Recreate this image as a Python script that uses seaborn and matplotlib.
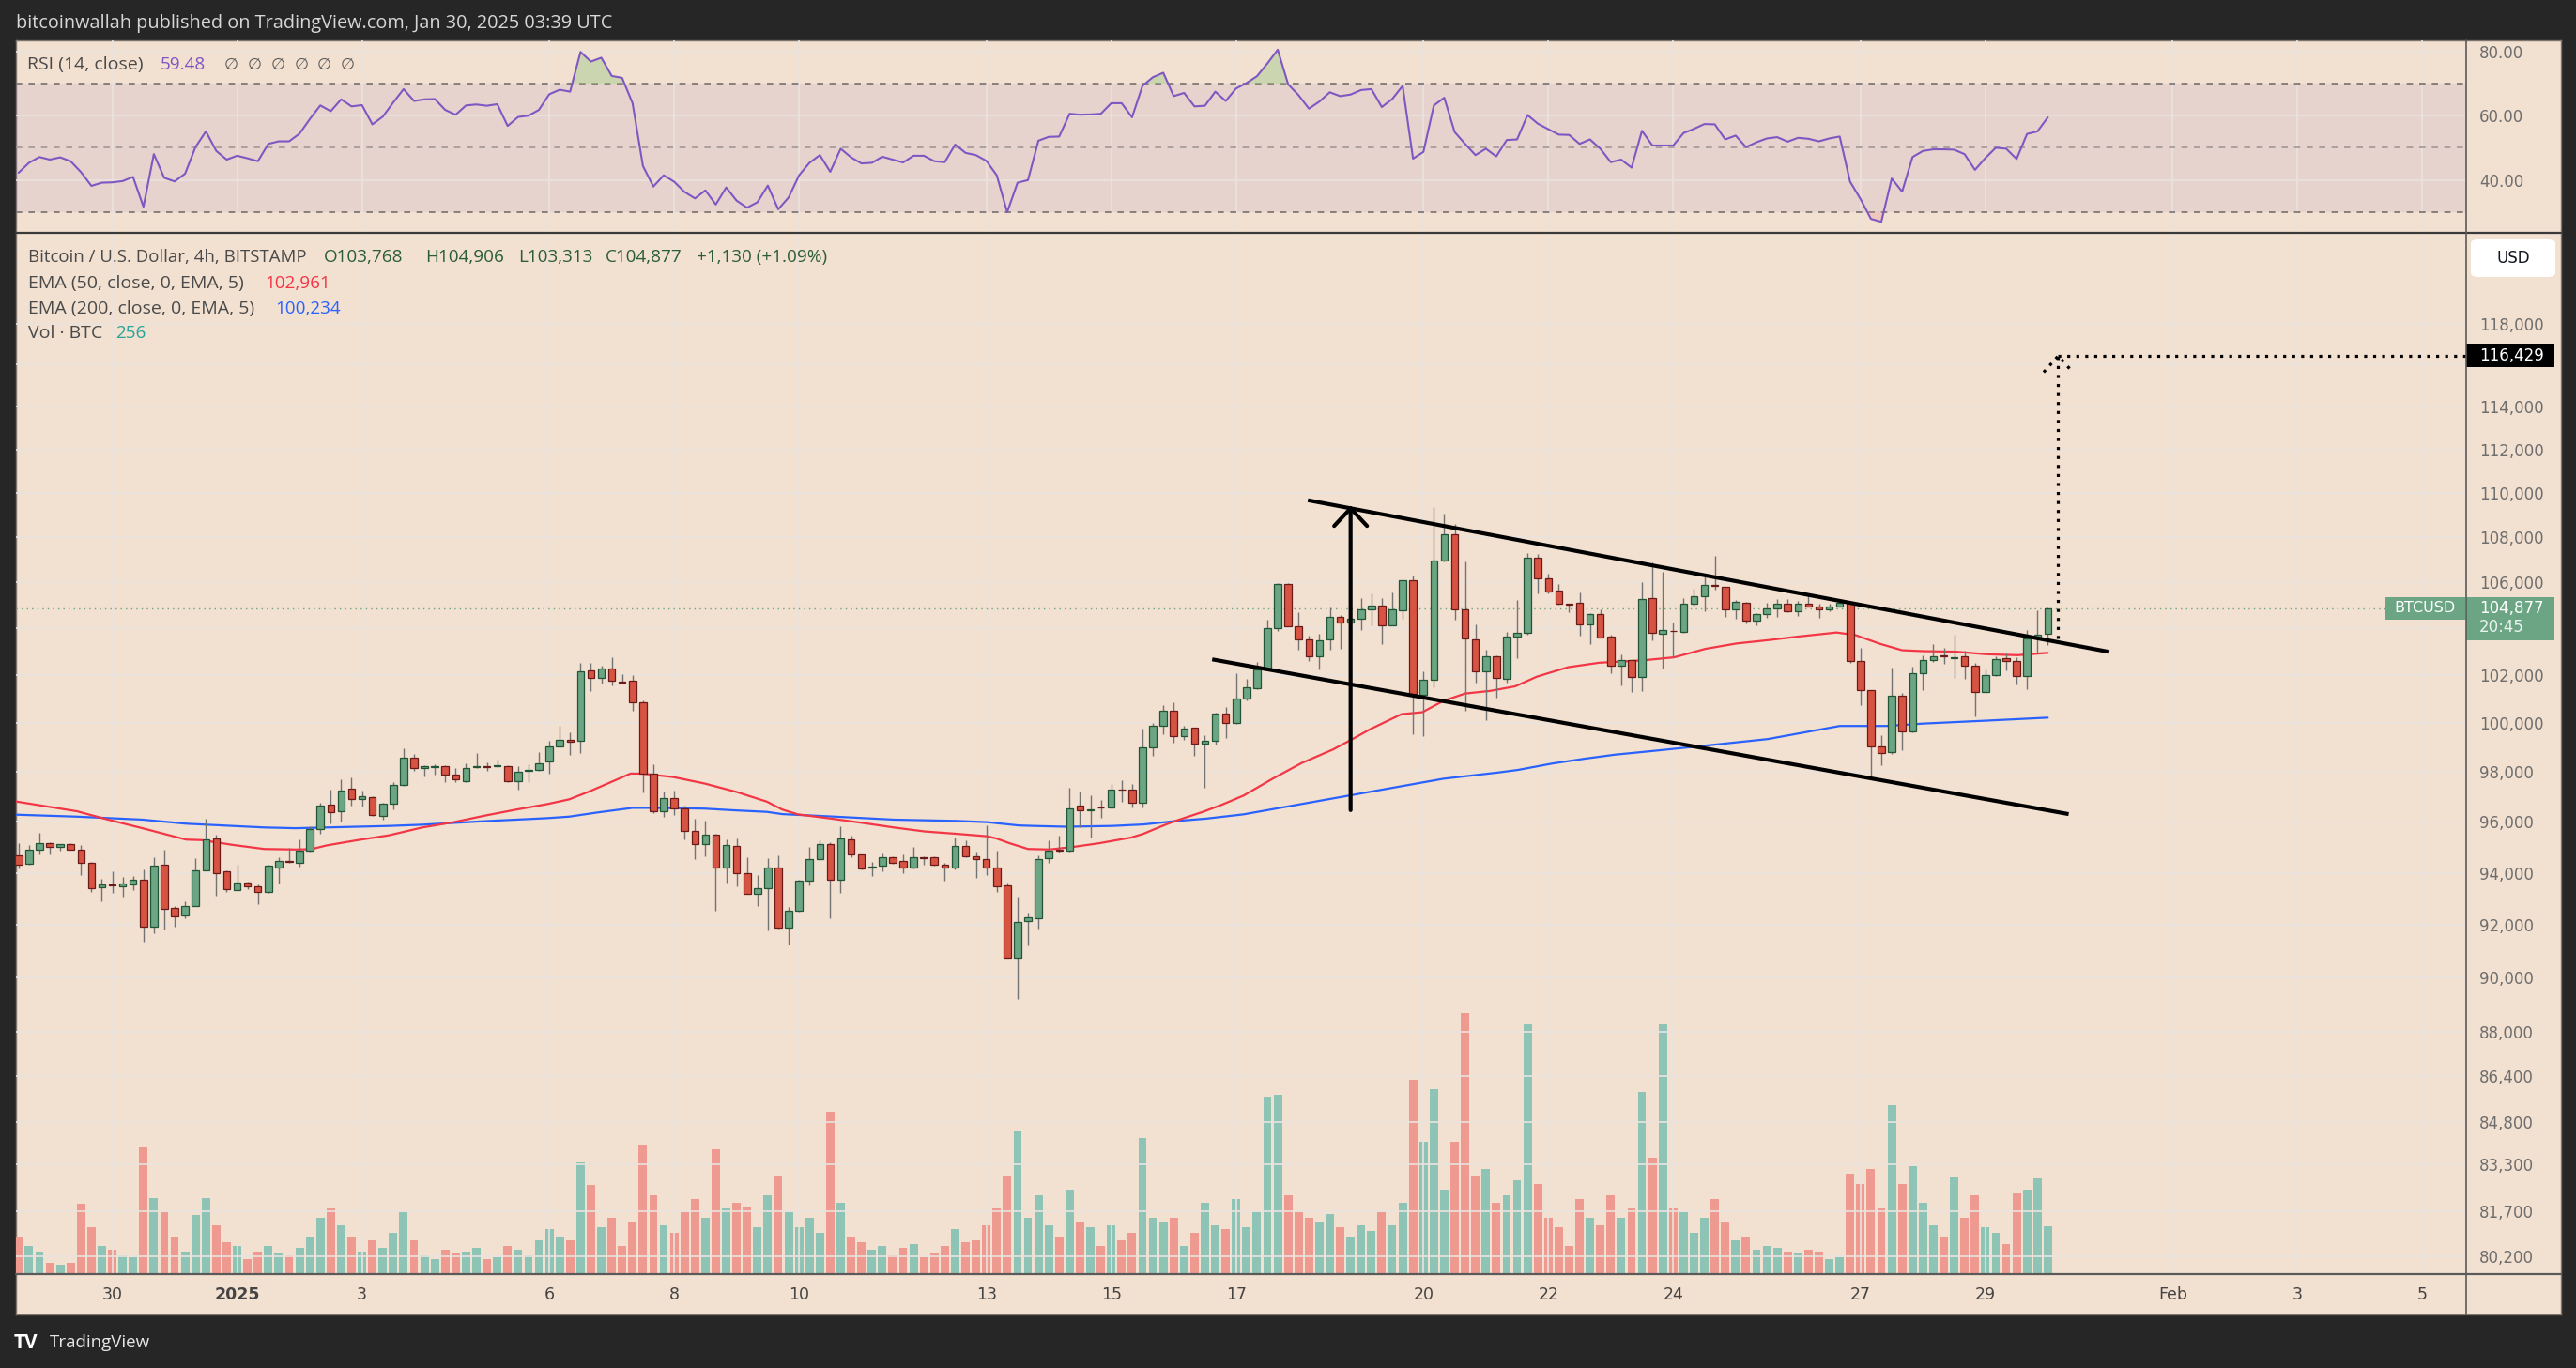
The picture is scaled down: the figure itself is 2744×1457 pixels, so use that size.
import numpy as np
import pandas as pd
import matplotlib
matplotlib.use("Agg")
import matplotlib.pyplot as plt
import seaborn as sns
from matplotlib.patches import Rectangle, FancyBboxPatch
from matplotlib.lines import Line2D
from matplotlib.ticker import NullLocator, FixedLocator, FixedFormatter

# ---------------- data ----------------
start_time = "2024-12-28 12:00"
bar_hours = 4

opens = [94670, 94340, 94900, 95160, 95010, 95120, 94890, 94370, 93450, 93550,
         93490, 93560, 93740, 91920, 94300, 92650, 92350, 92720, 94110, 95340,
         94040, 93340, 93630, 93490, 93270, 94220, 94460, 94370, 94860, 95710,
         96690, 96440, 97330, 96910, 96990, 96240, 96730, 97480, 98580, 98150,
         98190, 98260, 97890, 97650, 98190, 98230, 98230, 98260, 97630, 98040,
         98080, 98420, 99040, 99310, 99270, 102200, 101880, 102280, 101730, 101770,
         100860, 97930, 96430, 96950, 96540, 95640, 95120, 95490, 94220, 95040,
         94000, 93200, 93410, 94220, 91880, 92540, 93710, 94520, 95120, 93730,
         95300, 94710, 94210, 94260, 94600, 94450, 94190, 94620, 94600, 94300,
         94190, 95040, 94630, 94520, 94220, 93520, 90770, 92130, 92240, 94560,
         94910, 94860, 96650, 96460, 96590, 96580, 97300, 97290, 96760, 99000,
         99880, 100510, 99460, 99810, 99150, 99270, 100390, 100000, 101020, 101450,
         102250, 104030, 105920, 104110, 103550, 102800, 103550, 104520, 104270, 104440,
         104850, 105010, 104150, 104770, 106080, 101200, 101800, 106960, 108130, 104850,
         103550, 102160, 102830, 101840, 103670, 103830, 107080, 106170, 105630, 105060,
         105100, 104190, 104640, 103670, 102400, 102640, 101920, 105300, 103790, 103910,
         103860, 105060, 105420, 105880, 105800, 104850, 105100, 104360, 104640, 104890,
         105060, 104730, 105060, 104970, 104810, 104970, 105100, 102600, 101370, 99040,
         98800, 101140, 99650, 102080, 102640, 102850, 102740, 102800, 102400, 101290,
         102000, 102720, 102600, 101960, 103590, 103768]

highs = [95170, 95090, 95580, 95200, 95120, 95160, 95090, 94420, 93760, 94050,
         93830, 93890, 94120, 94610, 94900, 92720, 92880, 94570, 96140, 95500,
         94080, 94310, 93670, 93560, 94300, 94600, 94970, 95300, 95830, 96780,
         97290, 97710, 97790, 97250, 97010, 96760, 97590, 98970, 98730, 98280,
         98310, 98280, 98150, 98350, 98780, 98400, 98510, 98280, 98240, 98310,
         98820, 99280, 99900, 99630, 102520, 102520, 102410, 102770, 102040, 102000,
         100950, 98320, 97210, 97250, 96660, 96140, 96060, 95520, 95300, 95340,
         94610, 93900, 94570, 94680, 92680, 93720, 95010, 95270, 95190, 95840,
         95470, 94730, 94410, 94770, 94660, 94700, 95020, 94660, 94650, 94370,
         95390, 95280, 94810, 95880, 94870, 93610, 93060, 92480, 94680, 95280,
         95470, 97380, 97230, 97080, 96880, 97530, 97680, 97530, 99780, 100010,
         100760, 100880, 99900, 99830, 99510, 100430, 100690, 102090, 101840, 102570,
         104370, 105990, 105960, 104690, 103710, 103790, 104930, 104580, 104620, 105300,
         105520, 105300, 105550, 106100, 106310, 102160, 109370, 109060, 108590, 106920,
         104190, 103110, 102850, 103870, 105250, 107290, 107260, 106380, 105920, 105070,
         105550, 104660, 104810, 103750, 102910, 102660, 106000, 106880, 106470, 104270,
         105300, 105750, 106380, 107180, 105820, 105220, 105140, 104660, 105100, 105260,
         105260, 105180, 105430, 105060, 105060, 105260, 105140, 103190, 101390, 99500,
         102320, 101260, 102360, 102870, 103350, 103190, 103750, 103070, 102520, 102240,
         102800, 102950, 102760, 103950, 104770, 104906]

lows = [94170, 94300, 94720, 94720, 94880, 94890, 93900, 93240, 92880, 93220,
        93060, 93320, 91350, 91660, 91800, 91910, 92230, 92700, 94090, 93100,
        93240, 93320, 93370, 92770, 93220, 93590, 94400, 94250, 94840, 95540,
        95930, 96000, 96660, 96630, 96250, 96080, 96490, 97430, 98060, 97840,
        97910, 97580, 97580, 97610, 98170, 98060, 98210, 97600, 97310, 97610,
        98040, 97950, 99020, 98720, 98760, 101360, 101670, 101590, 101670, 100540,
        97160, 96350, 96190, 96260, 95290, 94550, 94660, 92540, 93620, 93480,
        93180, 92710, 91770, 91860, 91240, 92490, 93510, 94490, 92230, 93220,
        94620, 94140, 93880, 94060, 94340, 93990, 94170, 94320, 94280, 93700,
        94140, 94600, 93800, 93910, 93260, 90740, 89210, 91210, 91870, 94400,
        94780, 94840, 95780, 95370, 96150, 96540, 96790, 96560, 96560, 98680,
        99530, 99220, 99330, 98680, 97350, 99120, 99410, 99980, 100970, 101430,
        102230, 103890, 104090, 103090, 102620, 102270, 103090, 103140, 103700, 103950,
        104140, 103340, 104130, 104420, 99560, 99490, 101490, 106940, 104400, 100540,
        101690, 100140, 101060, 101690, 102740, 103750, 105510, 105510, 105040, 104690,
        103700, 103340, 103610, 102080, 101600, 101290, 101330, 103500, 102310, 102780,
        103820, 104970, 104730, 105670, 104520, 104410, 104230, 104150, 104480, 104520,
        104710, 104560, 104960, 104480, 104730, 104960, 102520, 100750, 97810, 98270,
        98730, 98880, 99610, 101370, 102560, 102480, 101880, 101840, 100270, 101270,
        101980, 102200, 101610, 101410, 102940, 103313]

closes = [94300, 94900, 95160, 95010, 95120, 94890, 94370, 93410, 93560, 93520,
          93600, 93740, 91920, 94260, 92610, 92320, 92720, 94110, 95300, 94000,
          93380, 93630, 93490, 93270, 94260, 94450, 94440, 94860, 95710, 96640,
          96390, 97250, 96910, 97030, 96280, 96730, 97480, 98580, 98150, 98230,
          98230, 97890, 97700, 98150, 98230, 98190, 98270, 97630, 98000, 98080,
          98350, 99040, 99310, 99230, 102160, 101880, 102280, 101770, 101690, 100860,
          97930, 96440, 96950, 96540, 95640, 95120, 95490, 94220, 95080, 94000,
          93200, 93410, 94220, 91880, 92540, 93710, 94520, 95120, 93740, 95340,
          94710, 94170, 94250, 94600, 94370, 94190, 94600, 94580, 94300, 94220,
          95040, 94630, 94520, 94220, 93490, 90770, 92100, 92280, 94520, 94860,
          94880, 96540, 96460, 96500, 96560, 97290, 97280, 96760, 99000, 99880,
          100510, 99460, 99770, 99150, 99270, 100390, 100000, 101020, 101490, 102250,
          104030, 105920, 104110, 103550, 102800, 103510, 104520, 104270, 104440, 104850,
          105010, 104150, 104810, 106080, 101240, 101800, 106960, 108130, 104810, 103590,
          102160, 102830, 101880, 103670, 103830, 107080, 106170, 105590, 105060, 105030,
          104190, 104640, 103630, 102400, 102640, 101920, 105260, 103830, 103950, 103880,
          105060, 105420, 105880, 105850, 104850, 105140, 104360, 104640, 104890, 105060,
          104730, 105060, 104970, 104810, 104970, 105100, 102600, 101370, 99040, 98770,
          101140, 99650, 102080, 102640, 102830, 102820, 102770, 102400, 101290, 102000,
          102680, 102600, 101960, 103590, 103747, 104877]

volumes = [200, 150, 120, 60, 50, 60, 375, 250, 150, 130,
           100, 90, 671, 401, 331, 200, 120, 314, 401, 260,
           170, 150, 80, 120, 150, 110, 100, 140, 200, 300,
           349, 260, 200, 120, 180, 140, 220, 330, 180, 100,
           80, 130, 110, 120, 140, 80, 90, 150, 130, 100,
           180, 240, 200, 180, 593, 471, 250, 300, 150, 280,
           689, 420, 260, 220, 330, 400, 300, 663, 350, 380,
           360, 250, 420, 520, 330, 250, 300, 220, 863, 380,
           200, 170, 130, 150, 100, 140, 160, 90, 110, 150,
           240, 170, 180, 260, 350, 520, 759, 300, 420, 260,
           200, 450, 280, 250, 150, 260, 180, 220, 724, 300,
           280, 300, 150, 220, 380, 260, 240, 400, 250, 330,
           942, 950, 420, 330, 300, 280, 320, 250, 200, 260,
           230, 330, 260, 380, 1029, 700, 980, 450, 700, 1386,
           520, 560, 380, 420, 500, 1325, 480, 300, 250, 150,
           400, 300, 260, 420, 300, 350, 968, 620, 1325, 350,
           330, 220, 300, 400, 280, 180, 200, 130, 150, 140,
           120, 110, 130, 120, 80, 90, 532, 480, 558, 350,
           898, 480, 575, 380, 260, 200, 514, 300, 420, 250,
           220, 160, 427, 450, 506, 256]

rsi_values = [42.2, 45.3, 47.1, 46.3, 47.0, 45.8, 42.4, 38.1, 39.1, 39.2,
              39.6, 40.9, 31.6, 48.0, 40.6, 39.5, 41.9, 50.2, 55.1, 49.0,
              46.3, 47.5, 46.7, 45.8, 51.2, 52.0, 52.0, 54.4, 59.0, 63.2,
              61.4, 65.1, 62.9, 63.3, 57.3, 59.7, 64.1, 68.3, 64.6, 65.1,
              65.2, 61.8, 60.3, 63.2, 63.5, 63.1, 63.6, 56.8, 59.6, 60.0,
              61.8, 66.7, 68.1, 67.5, 79.9, 76.9, 78.1, 72.4, 71.8, 63.9,
              44.3, 37.9, 41.4, 39.4, 36.2, 34.2, 36.7, 32.3, 37.6, 33.5,
              31.3, 33.0, 38.2, 30.8, 34.5, 41.4, 45.3, 47.7, 42.5, 49.7,
              47.0, 45.1, 45.3, 47.2, 46.3, 45.4, 47.5, 47.5, 45.8, 45.5,
              51.0, 48.4, 47.7, 45.9, 41.4, 29.9, 39.1, 39.9, 52.2, 53.4,
              53.5, 60.6, 60.3, 60.4, 60.6, 63.9, 63.9, 59.5, 69.3, 72.0,
              73.4, 66.1, 67.1, 62.9, 63.1, 67.5, 64.6, 68.5, 70.2, 72.3,
              76.3, 80.6, 69.8, 66.4, 62.2, 64.4, 67.3, 66.1, 66.6, 68.0,
              68.3, 62.7, 65.2, 69.3, 46.6, 48.7, 63.2, 65.6, 54.9, 51.2,
              47.7, 49.7, 47.3, 52.4, 52.6, 60.2, 57.5, 55.8, 54.1, 54.0,
              51.2, 52.6, 49.7, 45.5, 46.3, 43.8, 55.3, 50.7, 50.7, 50.7,
              54.6, 55.9, 57.4, 57.3, 52.6, 53.8, 50.2, 51.7, 52.9, 53.3,
              51.9, 53.1, 52.8, 52.0, 52.9, 53.5, 39.4, 34.0, 27.8, 26.9,
              40.4, 36.3, 47.1, 49.0, 49.5, 49.5, 49.4, 48.0, 43.1, 46.8,
              50.0, 49.7, 46.5, 54.3, 55.1, 59.48]

ema50_pos = [-0.4, 5.6, 8.6, 11.9, 16.1, 17.6, 20.6, 23.6, 26.6, 28.1,
             29.6, 32.6, 35.6, 38.8, 41.8, 44.8, 47.8, 50.8, 52.9, 54.8,
             56.9, 58.8, 59.9, 62.9, 65.9, 68.9, 71.9, 73.4, 74.9, 78.3,
             81.1, 84.1, 87.1, 90.1, 93.1, 94.0, 95.2, 97.0, 99.1, 101.5,
             103.9, 106.9, 108.1, 109.9, 111.1, 113.8, 115.6, 117.7, 120.5, 123.3,
             126.3, 128.1, 129.9, 132.9, 134.9, 136.9, 139.0, 141.4, 143.8, 145.9,
             148.9, 151.9, 154.9, 156.1, 159.1, 162.1, 165.1, 168.1, 171.1, 174.7,
             176.5, 178.9, 181.0, 183.1, 186.1, 189.1, 192.1, 195.0]
ema50_val = [96825, 96425, 96090, 95750, 95300, 95280, 95090, 94930, 94910, 94920,
             95070, 95280, 95470, 95780, 95990, 96250, 96490, 96710, 96900, 97210,
             97590, 97940, 97940, 97800, 97540, 97210, 96810, 96490, 96300, 96120,
             95960, 95780, 95620, 95530, 95430, 95340, 95160, 94930, 94910, 95020,
             95160, 95380, 95530, 95840, 96030, 96400, 96680, 97050, 97730, 98370,
             98920, 99330, 99760, 100380, 100460, 100930, 101240, 101350, 101540, 101950,
             102350, 102540, 102610, 102640, 102770, 103130, 103360, 103500, 103660, 103830,
             103720, 103340, 103070, 103030, 103010, 102900, 102860, 102961]

ema200_pos = [-0.4, 5.6, 11.9, 16.1, 20.6, 23.6, 26.6, 29.6, 35.6, 38.8,
              44.8, 50.8, 52.9, 55.7, 59.0, 60.6, 62.9, 65.9, 68.9, 71.9,
              73.4, 74.9, 78.3, 84.1, 90.1, 93.1, 96.1, 97.6, 100.6, 105.1,
              108.1, 111.1, 114.1, 117.7, 136.9, 142.3, 144.1, 147.4, 150.4, 153.4,
              157.0, 162.1, 168.1, 175.0, 179.5, 183.1, 186.1, 189.1, 195.0]
ema200_val = [96290, 96210, 96090, 95930, 95840, 95780, 95750, 95780, 95840, 95890,
              96030, 96150, 96210, 96380, 96560, 96560, 96550, 96530, 96460, 96400,
              96310, 96280, 96213, 96090, 96040, 95990, 95860, 95840, 95810, 95840,
              95900, 96030, 96130, 96300, 97730, 97990, 98090, 98350, 98540, 98710,
              98860, 99080, 99350, 99890, 99890, 99990, 100050, 100110, 100234]

price_ticks = [118000, 116000, 114000, 112000, 110000, 108000, 106000, 104000, 102000,
               100000, 98000, 96000, 94000, 92000, 90000, 88000, 86400, 84800, 83300,
               81700, 80200]
# 116,000 and 104,000 are hidden behind the price tags in the reference
price_tick_labels = ["118,000", "", "114,000", "112,000", "110,000", "108,000",
                     "106,000", "", "102,000", "100,000", "98,000", "96,000",
                     "94,000", "92,000", "90,000", "88,000", "86,400", "84,800",
                     "83,300", "81,700", "80,200"]
rsi_ticks = [80, 60, 40]
rsi_tick_labels = ["80.00", "60.00", "40.00"]
date_ticks = ["2024-12-30", "2025-01-01", "2025-01-03", "2025-01-06", "2025-01-08",
              "2025-01-10", "2025-01-13", "2025-01-15", "2025-01-17", "2025-01-20",
              "2025-01-22", "2025-01-24", "2025-01-27", "2025-01-29", "2025-02-01",
              "2025-02-03", "2025-02-05"]
date_labels = ["30", "2025", "3", "6", "8", "10", "13", "15", "17", "20", "22", "24",
               "27", "29", "Feb", "3", "5"]

target_price = 116429
countdown = "20:45"

# drawings (bar index, price)
upper_channel = [(123.9, 109676), (200.9, 103000)]
lower_channel = [(114.7, 102682), (197.0, 96311)]
flag_pole = [(128.0, 96469), (128.0, 109437)]
projection_x = 196.0
projection_base = 103573
projection_head = [(194.6, 115640), (196.0, 116429), (197.4, 115640)]

# ---------------- style ----------------
sns.set_theme(style="white")
plt.rcParams['font.family'] = ['Open Sans', 'DejaVu Sans']

DARK = '#262626'
BEIGE = '#F2E0D0'
GRID = '#EAE3DF'
UP, UP_EDGE = '#6BA583', '#225437'
DN, DN_EDGE = '#D75442', '#6B1A1A'
WICK = '#737373'
VOL_UP, VOL_DN = '#8EC4B6', '#EF9A90'
EMA50_C, EMA200_C, RSI_C = '#F23645', '#2962FF', '#7E57C2'
AXIS_TXT = '#6E6E6E'
LEG_TXT = '#4A4A4A'
OHLC_C = '#2B5E35'
LBL_FS = 14.0   # legend labels
VAL_FS = 13.6   # legend values

W, H = 2744, 1457
fig = plt.figure(figsize=(W / 100, H / 100), dpi=100)
fig.patch.set_facecolor(DARK)


def fx(px):
    return px / W


def fy(py):
    return 1 - py / H


def rect(x0, y0, x1, y1):
    return [fx(x0), fy(y1), fx(x1) - fx(x0), fy(y0) - fy(y1)]


bg = fig.add_axes(rect(17, 43, 2728, 1400))
bg.set_facecolor(BEIGE)
bg.set_xticks([])
bg.set_yticks([])
for s in bg.spines.values():
    s.set_color('#7D746E')
    s.set_linewidth(1)

ax_rsi = fig.add_axes(rect(17, 43, 2627, 248))
ax_vol = fig.add_axes(rect(17, 248, 2627, 1357))
ax_p = fig.add_axes(rect(17, 248, 2627, 1357))
for a in (ax_rsi, ax_vol, ax_p):
    a.patch.set_visible(False)
    for s in a.spines.values():
        s.set_visible(False)

n = len(opens)
x = np.arange(n)
o = np.array(opens, float)
h = np.array(highs, float)
l = np.array(lows, float)
c = np.array(closes, float)
t0 = pd.Timestamp(start_time)
tick_pos = [(pd.Timestamp(d) - t0) / pd.Timedelta(hours=bar_hours) for d in date_ticks]
XLIM = (-0.25, 235.2)

# ---------------- volume ----------------
ax_vol.set_xlim(*XLIM)
ax_vol.set_ylim(0, 5523)
ax_vol.set_xticks([])
ax_vol.set_yticks([])
vcol = [VOL_UP if cc >= oo else VOL_DN for oo, cc in zip(o, c)]
ax_vol.bar(x, volumes, width=0.8, color=vcol, linewidth=0)

# ---------------- price ----------------
ax_p.set_yscale('log')
ax_p.set_xlim(*XLIM)
ax_p.set_ylim(79612, 122510)
ax_p.yaxis.set_major_locator(FixedLocator(price_ticks))
ax_p.yaxis.set_major_formatter(FixedFormatter(price_tick_labels))
ax_p.yaxis.set_minor_locator(NullLocator())
ax_p.yaxis.tick_right()
ax_p.tick_params(axis='y', length=0, pad=10, labelsize=12, labelcolor=AXIS_TXT)
ax_p.set_xticks(tick_pos)
ax_p.set_xticklabels(date_labels)
ax_p.tick_params(axis='x', length=0, pad=9, labelsize=12.5, labelcolor='#444444')
for lbl in ax_p.get_yticklabels() + ax_p.get_xticklabels():
    lbl.set_fontfamily('DejaVu Sans')
for lbl in ax_p.get_xticklabels():
    if lbl.get_text() == "2025":
        lbl.set_fontweight('bold')
ax_p.grid(True, color=GRID, lw=1.2)
ax_p.set_axisbelow(True)

ax_p.axhline(c[-1], color=UP, lw=1.0, ls=(0, (1, 3)), zorder=1)

sns.lineplot(x=ema200_pos, y=ema200_val, ax=ax_p, color=EMA200_C, linewidth=1.6,
             zorder=2, legend=False)
sns.lineplot(x=ema50_pos, y=ema50_val, ax=ax_p, color=EMA50_C, linewidth=1.6,
             zorder=2, legend=False)

up = c >= o
body_b = np.minimum(o, c)
body_h = np.maximum(np.abs(c - o), body_b * 0.0003)
ax_p.vlines(x, l, h, color=WICK, lw=1.0, zorder=3)
ax_p.bar(x[up], body_h[up], bottom=body_b[up], width=0.68, color=UP,
         edgecolor=UP_EDGE, linewidth=0.9, zorder=4)
ax_p.bar(x[~up], body_h[~up], bottom=body_b[~up], width=0.68, color=DN,
         edgecolor=DN_EDGE, linewidth=0.9, zorder=4)

# drawings
for seg in (upper_channel, lower_channel):
    ax_p.plot([seg[0][0], seg[1][0]], [seg[0][1], seg[1][1]], color='black', lw=3.0,
              solid_capstyle='butt', zorder=6)
ax_p.annotate("", xy=flag_pole[1], xytext=flag_pole[0],
              arrowprops=dict(arrowstyle="->,head_length=0.45,head_width=0.42",
                              color='black', lw=3.0, mutation_scale=30,
                              shrinkA=0, shrinkB=0), zorder=6)
dot_kw = dict(color='black', lw=2.3, ls=(0, (1, 2)), dash_capstyle='butt', zorder=6)
ax_p.plot([projection_x, projection_x], [projection_base, target_price], **dot_kw)
ax_p.plot([projection_x, XLIM[1]], [target_price, target_price], **dot_kw)
ax_p.plot([pt[0] for pt in projection_head], [pt[1] for pt in projection_head], **dot_kw)
ax_p.set_xlabel('')
ax_p.set_ylabel('')

# ---------------- RSI ----------------
r = np.array(rsi_values, float)
ax_rsi.set_xlim(*XLIM)
ax_rsi.set_ylim(23.45, 83.5)
ax_rsi.axhspan(30, 70, color=RSI_C, alpha=0.09, lw=0, zorder=0)
ax_rsi.set_yticks(rsi_ticks)
ax_rsi.set_yticklabels(rsi_tick_labels)
ax_rsi.yaxis.tick_right()
ax_rsi.tick_params(axis='y', length=0, pad=10, labelsize=12, labelcolor=AXIS_TXT)
ax_rsi.set_xticks(tick_pos)
ax_rsi.tick_params(axis='x', length=0, labelbottom=False)
for lbl in ax_rsi.get_yticklabels():
    lbl.set_fontfamily('DejaVu Sans')
ax_rsi.grid(True, color=GRID, lw=1.2)
ax_rsi.set_axisbelow(True)
for lvl, col in ((70, '#77706F'), (50, '#A09895'), (30, '#77706F')):
    ax_rsi.axhline(lvl, color=col, lw=1.2, ls=(0, (4, 4)), zorder=1)
ax_rsi.fill_between(x, r, 70, where=r >= 70, interpolate=True, color='#9CC98A',
                    alpha=0.45, lw=0, zorder=1)
ax_rsi.fill_between(x, r, 30, where=r <= 30, interpolate=True, color='#E89A9A',
                    alpha=0.35, lw=0, zorder=1)
sns.lineplot(x=x, y=r, ax=ax_rsi, color=RSI_C, linewidth=1.5, zorder=3, legend=False)
ax_rsi.set_xlabel('')
ax_rsi.set_ylabel('')

# ---------------- frame lines ----------------
fig.add_artist(Line2D([fx(17), fx(2728)], [fy(248), fy(248)], color='#3A3A3A', lw=1.6))
fig.add_artist(Line2D([fx(2627), fx(2627)], [fy(43), fy(1400)], color='#5A5A5A', lw=1.2))
fig.add_artist(Line2D([fx(17), fx(2728)], [fy(1357), fy(1357)], color='#5A5A5A', lw=1.6))

# ---------------- texts ----------------
fig.text(fx(17), fy(25), "bitcoinwallah published on TradingView.com, Jan 30, 2025 03:39 UTC",
         color='#D6D6D6', fontsize=14.3, va='center', ha='left')

fig.text(fx(29), fy(69), "RSI (14, close)", color=LEG_TXT, fontsize=LBL_FS, va='center')
fig.text(fx(171), fy(69), f"{rsi_values[-1]:.2f}", color=RSI_C, fontsize=VAL_FS,
         va='center')
for k in range(6):
    fig.text(fx(239 + 24.8 * k), fy(69), "\u2205", color='#5A5A5A', fontsize=12.5,
             va='center', family='DejaVu Sans')

chg = c[-1] - c[-2]
pct = chg / c[-2] * 100
fig.text(fx(30), fy(274), "Bitcoin / U.S. Dollar, 4h, BITSTAMP", color=LEG_TXT,
         fontsize=13.4, va='center')
for px_, s_ in ((345, f"O{int(o[-1]):,}"), (453, f"H{int(h[-1]):,}"),
                (552, f"L{int(l[-1]):,}"), (645, f"C{int(c[-1]):,}"),
                (742, f"+{int(chg):,} (+{pct:.2f}%)")):
    fig.text(fx(px_), fy(274), s_, color=OHLC_C, fontsize=VAL_FS, va='center')
fig.text(fx(30), fy(302), "EMA (50, close, 0, EMA, 5)", color=LEG_TXT, fontsize=LBL_FS,
         va='center')
fig.text(fx(282), fy(302), f"{ema50_val[-1]:,}", color=EMA50_C, fontsize=VAL_FS,
         va='center')
fig.text(fx(30), fy(329), "EMA (200, close, 0, EMA, 5)", color=LEG_TXT, fontsize=LBL_FS,
         va='center')
fig.text(fx(293), fy(329), f"{ema200_val[-1]:,}", color=EMA200_C, fontsize=VAL_FS,
         va='center')
fig.text(fx(30), fy(355), "Vol \u00b7 BTC", color=LEG_TXT, fontsize=LBL_FS, va='center')
fig.text(fx(123), fy(355), f"{volumes[-1]:,}", color='#26A69A', fontsize=VAL_FS,
         va='center')


def price_fig_y(p):
    d = ax_p.transData.transform((0, p))
    return fig.transFigure.inverted().transform(d)[1]


# USD button
fig.add_artist(FancyBboxPatch((fx(2632), fy(295)), fx(2722) - fx(2632), fy(255) - fy(295),
                              boxstyle="round,pad=0,rounding_size=0.003", fc='white',
                              ec='none', transform=fig.transFigure))
fig.text(fx(2677), fy(275), "USD", color='#131722', fontsize=12, ha='center', va='center',
         family='DejaVu Sans')

# target label
yt = price_fig_y(target_price)
fig.add_artist(Rectangle((fx(2627), yt - 12.5 / H), fx(2721) - fx(2627), 25 / H,
                         fc='black', ec='none', transform=fig.transFigure))
fig.text(fx(2641), yt, f"{target_price:,}", color='white', fontsize=12, va='center',
         family='DejaVu Sans')

# last price label
yl = price_fig_y(c[-1])
fig.add_artist(Rectangle((fx(2627), yl - 34 / H), fx(2721) - fx(2627), 46 / H,
                         fc=UP, ec='none', transform=fig.transFigure))
fig.text(fx(2641), yl, f"{int(c[-1]):,}", color='white', fontsize=12, va='center',
         family='DejaVu Sans')
fig.text(fx(2641), yl - 20 / H, countdown, color='#EAF3EE', fontsize=12, va='center',
         family='DejaVu Sans')
fig.add_artist(Rectangle((fx(2541), yl - 12 / H), fx(2626) - fx(2541), 24 / H,
                         fc=UP, ec='none', transform=fig.transFigure))
fig.text(fx(2583), yl, "BTCUSD", color='white', fontsize=11.5, ha='center', va='center',
         family='DejaVu Sans')

# footer
fig.text(fx(15), fy(1430), "TV", color='white', fontsize=15, fontweight='bold', va='center')
fig.text(fx(53), fy(1430), "TradingView", color='#E6E6E6', fontsize=13.5, va='center')

fig.savefig("out.png", dpi=100, facecolor=DARK)
